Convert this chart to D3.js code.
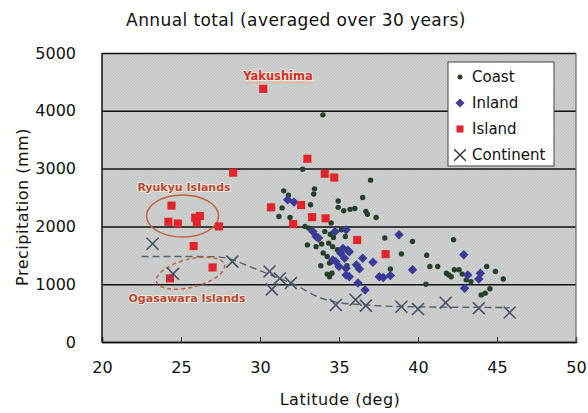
<!DOCTYPE html>
<html>
<head>
<meta charset="utf-8">
<script src="https://cdn.jsdelivr.net/npm/d3@7"></script>
<style>
body { margin: 0; background: #fff; }
text { font-family: "DejaVu Sans", sans-serif; }
</style>
</head>
<body>
<div id="result"></div>
<script>
// values: [latitude, precipitation]
const coast = [
    [33.98,3930],[32.7,2990],[37.0,2800],[31.5,2615],[33.45,2650],[33.4,2560],[36.5,2500],
    [31.8,2540],[31.4,2320],[31.2,2170],[31.9,2155],[33.2,2375],[34.95,2330],[34.95,2440],
    [35.3,2270],[35.7,2295],[36.0,2310],[36.7,2260],[36.8,2210],[37.35,2155],
    [32.85,2000],[33.1,1970],[34.1,1910],[34.45,1865],[34.8,1910],[35.15,1940],[34.65,1810],
    [35.4,1825],[34.5,2060],[33.0,1680],[33.55,1650],[33.9,1695],[34.35,1710],[34.6,1650],
    [34.0,1540],[34.25,1480],[33.85,1320],[34.4,1365],[34.25,1175],[34.55,1190],[34.4,1130],
    [35.5,1320],[34.9,1595],[37.9,1800],[39.65,1740],[38.95,1525],[38.25,1265],
    [42.25,1770],[40.55,1500],[40.75,1305],[41.25,1305],[41.8,1190],[41.95,1160],[42.1,1130],
    [42.3,1250],[42.6,1250],[42.8,1175],[43.05,1075],[43.35,1045],[44.35,1305],[44.9,1220],
    [45.4,1090],[40.5,1000],[44.0,815],[44.25,845],[44.55,920]
];
const inland = [
    [31.75,2460],[32.15,2420],[33.35,1910],[33.55,1825],[33.7,1800],[34.75,1910],[35.45,1940],
    [35.1,1540],[35.25,1620],[35.35,1450],[35.55,1590],[35.65,1560],[34.8,1390],[34.6,1420],
    [35.0,1305],[35.45,1275],[35.45,1160],[36.1,1335],[36.3,1265],[36.5,1450],[37.15,1380],
    [35.65,1130],[36.2,1020],[36.65,900],[37.55,1130],[37.8,1115],[38.25,1150],[38.8,1855],
    [39.65,1250],[42.9,1510],[43.15,1160],[43.85,1090],[43.95,1190],[42.95,930]
];
const island = [
    [24.4,2360],[24.2,2080],[24.8,2050],[25.9,2150],[26.2,2180],[26.0,2070],[27.4,2000],
    [25.8,1660],[27.0,1290],[24.3,1100],[28.3,2930],[30.2,4380],[30.7,2330],[32.6,2370],
    [33.3,2160],[34.15,2140],[32.1,2040],[36.15,1765],[37.95,1520],[33.0,3170],[34.1,2910],[34.7,2845]
];
const continent = [
    [23.2,1700],[24.5,1180],[28.25,1390],[30.6,1220],[31.25,1100],[30.75,910],[31.95,1020],
    [34.8,640],[36.05,730],[36.7,630],[38.95,610],[40.0,570],[41.75,680],[43.85,585],[45.8,510]
];
const trend = [
    [22.5,1480],[25,1480],[27.2,1475],[28.3,1420],[29.3,1310],[30.5,1180],[31.5,1070],
    [32.3,980],[33.5,800],[34.8,690],[36.5,645],[38.5,615],[41,605],[43.5,600],[45.8,595]
];
const xTicks = [20,25,30,35,40,45,50];
const yTicks = [0,1000,2000,3000,4000,5000];
const legendNames = ["Coast","Inland","Island","Continent"];

let svg = d3.select("#result").append("svg")
    .attr("width", 588).attr("height", 413);

const x = d3.scaleLinear().domain([20,50]).range([102,576]);
const y = d3.scaleLinear().domain([0,5000]).range([342,53]);

// gray hatched plot background
let pat = svg.append("defs").append("pattern")
    .attr("id","hatch").attr("patternUnits","userSpaceOnUse")
    .attr("width",3).attr("height",3);
pat.append("rect").attr("width",3).attr("height",3).attr("fill","#cdd0cf");
pat.append("path").attr("d","M-1,1 l2,-2 M0,3 l3,-3 M2,4 l2,-2")
    .attr("stroke","#c0c4c3").attr("stroke-width",0.9);

svg.append("rect")
    .attr("x", x(20)).attr("y", y(5000))
    .attr("width", x(50)-x(20)).attr("height", y(0)-y(5000))
    .attr("fill","url(#hatch)");

// y axis with gridlines
let gy = svg.append("g").attr("transform","translate(" + x(20) + ",0)")
    .call(d3.axisLeft(y).tickValues(yTicks).tickFormat(d3.format("d"))
        .tickSize(-(x(50)-x(20))).tickPadding(26));
gy.select(".domain").remove();
gy.selectAll("line").attr("stroke","#111").attr("stroke-width",1.5);
gy.selectAll("text").attr("font-size",16).attr("fill","#111");

// x axis, ticks point inward
let gx = svg.append("g").attr("transform","translate(0," + y(0) + ")")
    .call(d3.axisBottom(x).tickValues(xTicks).tickSize(-5).tickPadding(20));
gx.select(".domain").attr("stroke","#111").attr("stroke-width",1.5);
gx.selectAll("line").attr("stroke","#333");
gx.selectAll("text").attr("font-size",16).attr("fill","#111");

// side borders
svg.append("line").attr("x1",x(20)).attr("x2",x(20)).attr("y1",y(5000)).attr("y2",y(0))
    .attr("stroke","#111").attr("stroke-width",1.5);
svg.append("line").attr("x1",x(50)).attr("x2",x(50)).attr("y1",y(5000)).attr("y2",y(0))
    .attr("stroke","#666").attr("stroke-width",1.2);

// titles
svg.append("text").attr("x",296).attr("y",26).attr("text-anchor","middle")
    .attr("font-size",17).attr("letter-spacing",0.4).attr("fill","#111")
    .text("Annual total (averaged over 30 years)");
svg.append("text").attr("x",340).attr("y",405).attr("text-anchor","middle")
    .attr("font-size",16).attr("letter-spacing",0.5).attr("fill","#111").text("Latitude (deg)");
svg.append("text").attr("transform","translate(28,207) rotate(-90)").attr("text-anchor","middle")
    .attr("font-size",16).attr("letter-spacing",0.5).attr("fill","#111").text("Precipitation (mm)");

// trend line for continent
svg.append("path").datum(trend)
    .attr("d", d3.line().x(d => x(d[0])).y(d => y(d[1])).curve(d3.curveMonotoneX))
    .attr("fill","none").attr("stroke","#58606c").attr("stroke-width",1.4)
    .attr("stroke-dasharray","7,4");

// annotation ellipses
svg.append("ellipse").attr("cx",x(25.1)).attr("cy",y(2180)).attr("rx",36).attr("ry",21)
    .attr("fill","none").attr("stroke","#c0643f").attr("stroke-width",1.5);
svg.append("ellipse").attr("transform","translate(" + x(25.6) + "," + y(1190) + ") rotate(-14)")
    .attr("rx",35).attr("ry",14)
    .attr("fill","none").attr("stroke","#c0643f").attr("stroke-width",1.5)
    .attr("stroke-dasharray","4,3");

// data marks
const COLOR = { coast: "#26402c", inland: "#3b3a98", island: "#e3242b", continent: "#4a5164" };

svg.append("g").selectAll("circle").data(coast).join("circle")
    .attr("cx", d => x(d[0])).attr("cy", d => y(d[1])).attr("r", 2.7)
    .attr("fill", COLOR.coast);

svg.append("g").selectAll("path").data(inland).join("path")
    .attr("d", d3.symbol(d3.symbolSquare, 44))
    .attr("transform", d => "translate(" + x(d[0]) + "," + y(d[1]) + ") rotate(45)")
    .attr("fill", COLOR.inland);

svg.append("g").selectAll("path").data(island).join("path")
    .attr("d", d3.symbol(d3.symbolSquare, 66))
    .attr("transform", d => "translate(" + x(d[0]) + "," + y(d[1]) + ")")
    .attr("fill", COLOR.island);

svg.append("g").selectAll("path").data(continent).join("path")
    .attr("d", d3.symbol(d3.symbolTimes, 95))
    .attr("transform", d => "translate(" + x(d[0]) + "," + y(d[1]) + ")")
    .attr("fill","none").attr("stroke", COLOR.continent).attr("stroke-width",1.6);

// labels on the plot
function note(txt, cx, cy, col, size) {
    svg.append("text").attr("x",cx).attr("y",cy).attr("text-anchor","middle")
        .attr("font-size",size).attr("font-weight","bold")
        .attr("fill",col).attr("stroke","#f2e6d8").attr("stroke-width",2)
        .attr("paint-order","stroke").text(txt);
}
note("Yakushima", 278, 80, "#d2302c", 11.5);
svg.append("line").attr("x1",244).attr("x2",312).attr("y1",83).attr("y2",83)
    .attr("stroke","#e8b08a").attr("stroke-width",1.2);
note("Ryukyu Islands", 184, 191, "#b44a3a", 11);
note("Ogasawara Islands", 187, 302, "#b44a3a", 11);

// legend
let lg = svg.append("g");
lg.append("rect").attr("x",448).attr("y",62).attr("width",106).attr("height",104)
    .attr("fill","#fff").attr("stroke","#444").attr("stroke-width",1);
legendNames.forEach(function(name, i) {
    let ly = 77 + i*26;
    let lx = 460;
    if (i === 0) lg.append("circle").attr("cx",lx).attr("cy",ly).attr("r",2.5).attr("fill",COLOR.coast);
    if (i === 1) lg.append("path").attr("d", d3.symbol(d3.symbolSquare, 40))
        .attr("transform","translate(" + lx + "," + ly + ") rotate(45)").attr("fill",COLOR.inland);
    if (i === 2) lg.append("path").attr("d", d3.symbol(d3.symbolSquare, 50))
        .attr("transform","translate(" + lx + "," + ly + ")").attr("fill",COLOR.island);
    if (i === 3) lg.append("path").attr("d", d3.symbol(d3.symbolTimes, 90))
        .attr("transform","translate(" + lx + "," + ly + ")")
        .attr("fill","none").attr("stroke","#333").attr("stroke-width",1.4);
    lg.append("text").attr("x",472).attr("y",ly).attr("dy","0.36em")
        .attr("font-size",15).attr("fill","#111").text(name);
});
</script>
</body>
</html>
